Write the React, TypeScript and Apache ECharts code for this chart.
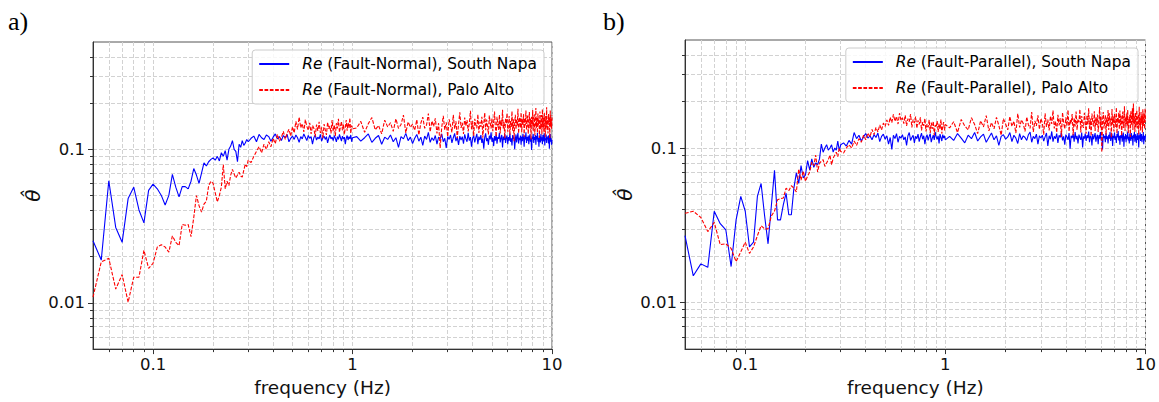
import React, { useEffect, useRef } from "react";
import * as echarts from "echarts";

// ---- axes ----
const X_MIN = 0.05;
const X_MAX = 10;
const Y_MIN = 0.005;
const Y_MAX = 0.5;
const X_MAJOR = [0.1, 1, 10];
const X_MINOR = [0.06, 0.07, 0.08, 0.09, 0.2, 0.3, 0.4, 0.5, 0.6, 0.7, 0.8, 0.9, 2, 3, 4, 5, 6, 7, 8, 9];
const Y_MAJOR = [0.01, 0.1];
const Y_MINOR = [0.006, 0.007, 0.008, 0.009, 0.02, 0.03, 0.04, 0.05, 0.06, 0.07, 0.08, 0.09, 0.2, 0.3, 0.4];

// frequency bins (start, step) for the three sampled bands
const LOW_BINS = [0.05, 0.005];
const MID_BINS = [0.31, 0.01];
const HIGH_BINS = [1.05, 0.05];

const LEGEND_A = ["(Fault-Normal), South Napa", "(Fault-Normal), Palo Alto"];
const LEGEND_B = ["(Fault-Parallel), South Napa", "(Fault-Parallel), Palo Alto"];

// ---- panel a) Fault-Normal ----
const aBlueLow = [
  0.0254, 0.019, 0.0624, 0.031, 0.0248, 0.0478, 0.0567, 0.0403, 0.0332, 0.054,
  0.0594, 0.0553, 0.0501, 0.0434, 0.0501, 0.0687, 0.0567, 0.049, 0.0572, 0.0572,
  0.0553, 0.062, 0.075, 0.068, 0.06, 0.07, 0.0815, 0.078, 0.083, 0.086,
  0.088, 0.085, 0.09, 0.084, 0.095, 0.09, 0.098, 0.085, 0.1, 0.105,
  0.114, 0.1, 0.097, 0.083, 0.108, 0.103, 0.114, 0.106, 0.11, 0.116,
  0.112,
];
const aBlueMid = [
  0.118, 0.122, 0.112, 0.125, 0.119, 0.116, 0.124, 0.121, 0.113, 0.12,
  0.126, 0.117, 0.121, 0.114, 0.123, 0.119, 0.125, 0.112, 0.118, 0.122,
  0.116, 0.124, 0.119, 0.111, 0.121, 0.117, 0.126, 0.12, 0.114, 0.123,
  0.118, 0.121, 0.108, 0.119, 0.124, 0.115, 0.12, 0.117, 0.125, 0.113,
  0.119, 0.122, 0.116, 0.121, 0.11, 0.118, 0.124, 0.117, 0.12, 0.114,
  0.123, 0.118, 0.112, 0.121, 0.116, 0.125, 0.119, 0.113, 0.122, 0.117,
  0.12, 0.108, 0.118, 0.123, 0.115, 0.121, 0.117, 0.124, 0.112, 0.119,
];
const aBlueHigh = [
  0.121, 0.113, 0.119, 0.126, 0.111, 0.118, 0.123, 0.108, 0.12, 0.116,
  0.124, 0.112, 0.119, 0.103, 0.121, 0.117, 0.127, 0.114, 0.12, 0.109,
  0.118, 0.125, 0.113, 0.12, 0.106, 0.122, 0.116, 0.129, 0.111, 0.119,
  0.114, 0.123, 0.108, 0.12, 0.117, 0.126, 0.112, 0.118, 0.102, 0.121,
  0.116, 0.124, 0.11, 0.119, 0.127, 0.113, 0.12, 0.107, 0.122, 0.115,
  0.121, 0.109, 0.125, 0.117, 0.112, 0.128, 0.114, 0.12, 0.104, 0.118,
  0.123, 0.111, 0.119, 0.126, 0.108, 0.121, 0.115, 0.124, 0.11, 0.118,
  0.101, 0.12, 0.127, 0.113, 0.118, 0.107, 0.123, 0.116, 0.129, 0.112,
  0.119, 0.105, 0.122, 0.114, 0.125, 0.109, 0.12, 0.117, 0.128, 0.111,
  0.118, 0.124, 0.103, 0.121, 0.115, 0.126, 0.11, 0.119, 0.123, 0.108,
  0.12, 0.114, 0.127, 0.112, 0.118, 0.106, 0.124, 0.117, 0.121, 0.1,
  0.116, 0.125, 0.111, 0.12, 0.128, 0.109, 0.119, 0.115, 0.123, 0.107,
  0.121, 0.113, 0.126, 0.118, 0.104, 0.122, 0.116, 0.129, 0.11, 0.12,
  0.114, 0.123, 0.108, 0.119, 0.125, 0.112, 0.118, 0.099, 0.121, 0.117,
  0.126, 0.11, 0.12, 0.115, 0.124, 0.107, 0.122, 0.116, 0.128, 0.112,
  0.119, 0.104, 0.123, 0.117, 0.111, 0.126, 0.114, 0.12, 0.108, 0.124,
  0.113, 0.121, 0.127, 0.106, 0.118, 0.115, 0.125, 0.11, 0.12, 0.116,
  0.122, 0.109, 0.124, 0.101, 0.119, 0.126, 0.112, 0.118, 0.107, 0.115,
];
const aRedLow = [
  0.0109, 0.0185, 0.0195, 0.0123, 0.0153, 0.0101, 0.0147, 0.0147, 0.022, 0.0168,
  0.0181, 0.0231, 0.0239, 0.0231, 0.0214, 0.0273, 0.0248, 0.0236, 0.0324, 0.032,
  0.0324, 0.027, 0.036, 0.05, 0.043, 0.039, 0.044, 0.046, 0.058, 0.062,
  0.06, 0.052, 0.0455, 0.05, 0.0567, 0.0796, 0.0553, 0.062, 0.058, 0.068,
  0.074, 0.069, 0.065, 0.068, 0.071, 0.067, 0.066, 0.073, 0.08, 0.077,
  0.085,
];
const aRedMid = [
  0.082, 0.09, 0.097, 0.104, 0.095, 0.108, 0.1, 0.112, 0.104, 0.118,
  0.109, 0.125, 0.113, 0.12, 0.131, 0.116, 0.127, 0.135, 0.122, 0.14,
  0.128, 0.152, 0.135, 0.162, 0.138, 0.147, 0.13, 0.156, 0.141, 0.133,
  0.149, 0.126, 0.143, 0.137, 0.121, 0.145, 0.132, 0.151, 0.128, 0.139,
  0.118, 0.146, 0.134, 0.124, 0.15, 0.136, 0.142, 0.127, 0.155, 0.131,
  0.144, 0.122, 0.148, 0.137, 0.158, 0.129, 0.141, 0.152, 0.133, 0.146,
  0.125, 0.139, 0.155, 0.132, 0.149, 0.138, 0.16, 0.127, 0.143, 0.136,
];
const aRedHigh = [
  0.138, 0.152, 0.129, 0.147, 0.161, 0.134, 0.143, 0.126, 0.155, 0.14,
  0.149, 0.131, 0.158, 0.137, 0.145, 0.167, 0.128, 0.151, 0.139, 0.146,
  0.133, 0.156, 0.124, 0.148, 0.162, 0.137, 0.144, 0.171, 0.13, 0.153,
  0.141, 0.159, 0.127, 0.148, 0.102, 0.139, 0.165, 0.134, 0.15, 0.121,
  0.157, 0.143, 0.129, 0.168, 0.136, 0.152, 0.118, 0.146, 0.174, 0.138,
  0.149, 0.126, 0.161, 0.142, 0.155, 0.131, 0.147, 0.178, 0.135, 0.153,
  0.122, 0.158, 0.144, 0.137, 0.169, 0.128, 0.151, 0.14, 0.163, 0.119,
  0.147, 0.173, 0.133, 0.156, 0.141, 0.125, 0.166, 0.149, 0.137, 0.159,
  0.131, 0.152, 0.176, 0.14, 0.121, 0.163, 0.145, 0.134, 0.168, 0.127,
  0.155, 0.142, 0.181, 0.136, 0.15, 0.118, 0.16, 0.147, 0.172, 0.13,
  0.144, 0.165, 0.124, 0.153, 0.139, 0.177, 0.132, 0.158, 0.113, 0.149,
  0.168, 0.135, 0.156, 0.142, 0.184, 0.127, 0.151, 0.162, 0.138, 0.174,
  0.129, 0.157, 0.145, 0.17, 0.121, 0.16, 0.143, 0.179, 0.134, 0.152,
  0.166, 0.126, 0.148, 0.175, 0.137, 0.159, 0.116, 0.163, 0.142, 0.18,
  0.131, 0.154, 0.169, 0.123, 0.147, 0.186, 0.138, 0.16, 0.128, 0.171,
  0.144, 0.158, 0.119, 0.176, 0.135, 0.152, 0.167, 0.125, 0.182, 0.14,
  0.161, 0.13, 0.173, 0.147, 0.121, 0.165, 0.139, 0.188, 0.133, 0.156,
  0.127, 0.17, 0.148, 0.162, 0.118, 0.179, 0.141, 0.158, 0.136, 0.167,
];

// ---- panel b) Fault-Parallel ----
const bBlueLow = [
  0.0271, 0.0149, 0.0178, 0.0169, 0.039, 0.0324, 0.0295, 0.0171, 0.0343, 0.0486,
  0.039, 0.0229, 0.0246, 0.0486, 0.059, 0.0363, 0.024, 0.042, 0.0717, 0.0343,
  0.0343, 0.043, 0.051, 0.037, 0.037, 0.055, 0.069, 0.059, 0.077, 0.064,
  0.067, 0.083, 0.072, 0.085, 0.075, 0.08, 0.078, 0.085, 0.106, 0.094,
  0.1, 0.105, 0.097, 0.1, 0.105, 0.094, 0.1, 0.097, 0.111, 0.096,
  0.105,
];
const bBlueMid = [
  0.108, 0.103, 0.112, 0.106, 0.126, 0.115, 0.121, 0.111, 0.118, 0.124,
  0.116, 0.12, 0.113, 0.122, 0.117, 0.125, 0.11, 0.119, 0.123, 0.114,
  0.12, 0.106, 0.117, 0.098, 0.121, 0.115, 0.124, 0.109, 0.119, 0.116,
  0.122, 0.113, 0.118, 0.104, 0.12, 0.126, 0.112, 0.117, 0.121, 0.108,
  0.119, 0.115, 0.123, 0.11, 0.118, 0.125, 0.114, 0.12, 0.106, 0.117,
  0.122, 0.112, 0.119, 0.124, 0.109, 0.116, 0.121, 0.113, 0.127, 0.118,
  0.114, 0.12, 0.107, 0.123, 0.117, 0.111, 0.122, 0.116, 0.12, 0.113,
];
const bBlueHigh = [
  0.119, 0.112, 0.124, 0.116, 0.108, 0.121, 0.115, 0.126, 0.111, 0.118,
  0.123, 0.109, 0.117, 0.125, 0.113, 0.12, 0.104, 0.119, 0.122, 0.114,
  0.118, 0.126, 0.11, 0.121, 0.116, 0.107, 0.124, 0.113, 0.12, 0.117,
  0.112, 0.122, 0.127, 0.109, 0.119, 0.115, 0.123, 0.106, 0.12, 0.116,
  0.121, 0.111, 0.118, 0.125, 0.103, 0.12, 0.114, 0.128, 0.11, 0.119,
  0.115, 0.124, 0.108, 0.121, 0.117, 0.126, 0.112, 0.119, 0.105, 0.122,
  0.118, 0.113, 0.125, 0.099, 0.12, 0.116, 0.123, 0.11, 0.127, 0.114,
  0.12, 0.107, 0.122, 0.117, 0.113, 0.126, 0.101, 0.119, 0.115, 0.124,
  0.111, 0.121, 0.116, 0.128, 0.109, 0.12, 0.118, 0.104, 0.123, 0.114,
  0.119, 0.125, 0.11, 0.117, 0.122, 0.106, 0.121, 0.115, 0.127, 0.112,
  0.118, 0.098, 0.123, 0.116, 0.12, 0.109, 0.125, 0.114, 0.119, 0.107,
  0.122, 0.115, 0.127, 0.111, 0.118, 0.124, 0.103, 0.12, 0.116, 0.126,
  0.113, 0.119, 0.108, 0.123, 0.117, 0.129, 0.112, 0.12, 0.105, 0.121,
  0.116, 0.124, 0.11, 0.118, 0.126, 0.102, 0.119, 0.114, 0.123, 0.109,
  0.121, 0.115, 0.128, 0.112, 0.118, 0.107, 0.124, 0.117, 0.111, 0.125,
  0.114, 0.12, 0.104, 0.122, 0.116, 0.127, 0.11, 0.119, 0.123, 0.108,
  0.12, 0.113, 0.125, 0.117, 0.101, 0.121, 0.115, 0.126, 0.111, 0.118,
  0.123, 0.109, 0.119, 0.114, 0.127, 0.106, 0.12, 0.116, 0.112, 0.121,
];
const bRedLow = [
  0.0378, 0.039, 0.0355, 0.0288, 0.033, 0.0237, 0.024, 0.0224, 0.0184, 0.0213,
  0.0246, 0.0208, 0.0229, 0.0271, 0.0314, 0.03, 0.03, 0.0363, 0.039, 0.0463,
  0.047, 0.0475, 0.055, 0.053, 0.057, 0.055, 0.052, 0.073, 0.062, 0.071,
  0.061, 0.066, 0.07, 0.081, 0.077, 0.09, 0.07, 0.08, 0.082, 0.084,
  0.076, 0.08, 0.084, 0.09, 0.078, 0.086, 0.09, 0.094, 0.088, 0.1,
  0.095,
];
const bRedMid = [
  0.093, 0.1, 0.105, 0.1, 0.111, 0.104, 0.115, 0.109, 0.121, 0.113,
  0.125, 0.118, 0.132, 0.122, 0.136, 0.127, 0.141, 0.131, 0.145, 0.138,
  0.152, 0.14, 0.158, 0.146, 0.165, 0.149, 0.16, 0.143, 0.168, 0.151,
  0.157, 0.144, 0.163, 0.139, 0.155, 0.148, 0.166, 0.136, 0.153, 0.145,
  0.16, 0.134, 0.151, 0.142, 0.158, 0.13, 0.147, 0.139, 0.155, 0.128,
  0.143, 0.136, 0.152, 0.125, 0.146, 0.133, 0.149, 0.121, 0.141, 0.137,
  0.15, 0.127, 0.144, 0.132, 0.153, 0.124, 0.139, 0.147, 0.13, 0.142,
];
const bRedHigh = [
  0.135, 0.148, 0.126, 0.153, 0.139, 0.131, 0.157, 0.142, 0.124, 0.15,
  0.137, 0.162, 0.129, 0.146, 0.133, 0.158, 0.14, 0.121, 0.155, 0.143,
  0.131, 0.16, 0.138, 0.149, 0.125, 0.167, 0.136, 0.152, 0.144, 0.128,
  0.159, 0.141, 0.134, 0.171, 0.127, 0.15, 0.139, 0.163, 0.132, 0.155,
  0.146, 0.122, 0.168, 0.137, 0.153, 0.13, 0.161, 0.143, 0.175, 0.134,
  0.149, 0.126, 0.164, 0.14, 0.156, 0.118, 0.17, 0.145, 0.133, 0.158,
  0.139, 0.176, 0.128, 0.152, 0.144, 0.166, 0.121, 0.157, 0.138, 0.172,
  0.131, 0.154, 0.147, 0.178, 0.126, 0.161, 0.14, 0.135, 0.169, 0.148,
  0.124, 0.163, 0.142, 0.181, 0.133, 0.155, 0.119, 0.167, 0.146, 0.138,
  0.173, 0.129, 0.158, 0.141, 0.165, 0.127, 0.15, 0.184, 0.136, 0.16,
  0.094, 0.152, 0.171, 0.134, 0.147, 0.163, 0.122, 0.158, 0.139, 0.176,
  0.131, 0.168, 0.145, 0.155, 0.117, 0.179, 0.142, 0.16, 0.128, 0.166,
  0.15, 0.137, 0.183, 0.124, 0.157, 0.145, 0.169, 0.132, 0.175, 0.14,
  0.162, 0.12, 0.153, 0.172, 0.135, 0.148, 0.186, 0.129, 0.159, 0.143,
  0.167, 0.138, 0.177, 0.125, 0.155, 0.146, 0.164, 0.118, 0.173, 0.14,
  0.152, 0.181, 0.131, 0.194, 0.144, 0.16, 0.127, 0.17, 0.137, 0.158,
  0.176, 0.134, 0.149, 0.165, 0.122, 0.185, 0.141, 0.156, 0.13, 0.171,
  0.145, 0.162, 0.126, 0.178, 0.139, 0.154, 0.167, 0.133, 0.18, 0.148,
];

function bins(spec: number[], n: number): number[] {
  const out: number[] = [];
  for (let i = 0; i < n; i++) out.push(Math.round((spec[0] + i * spec[1]) * 1000) / 1000);
  return out;
}
function pairs(low: number[], mid: number[], high: number[]): number[][] {
  const f = [...bins(LOW_BINS, low.length), ...bins(MID_BINS, mid.length), ...bins(HIGH_BINS, high.length)];
  const v = [...low, ...mid, ...high];
  return f.map((x, i) => [x, v[i]]);
}

const FONT = "DejaVu Sans";
const GRID_LINE = { show: true, lineStyle: { color: "#d2d2d2", width: 1, type: [4, 2] as any } };

function xAxes(g: number) {
  return [
    {
      type: "log", logBase: 10, gridIndex: g, min: X_MIN, max: X_MAX, position: "bottom",
      axisLine: { show: true, lineStyle: { color: "#333", width: 1 } },
      axisTick: { show: true, length: 5, customValues: X_MAJOR, lineStyle: { color: "#333" } },
      axisLabel: { customValues: X_MAJOR, fontSize: 16.5, color: "#111", margin: 7, fontFamily: FONT },
      splitLine: GRID_LINE,
      name: "frequency (Hz)", nameLocation: "middle", nameGap: 22,
      nameTextStyle: { fontSize: 18.5, color: "#111", fontFamily: FONT },
    },
    {
      type: "log", logBase: 10, gridIndex: g, min: X_MIN, max: X_MAX, position: "bottom",
      axisLine: { show: false },
      axisTick: { show: true, length: 3, customValues: X_MINOR, lineStyle: { color: "#333" } },
      axisLabel: { show: false },
      splitLine: GRID_LINE,
    },
  ];
}
function yAxes(g: number) {
  return [
    {
      type: "log", logBase: 10, gridIndex: g, min: Y_MIN, max: Y_MAX, position: "left",
      axisLine: { show: true, lineStyle: { color: "#333", width: 1 } },
      axisTick: { show: true, length: 5, customValues: Y_MAJOR, lineStyle: { color: "#333" } },
      axisLabel: { customValues: Y_MAJOR, fontSize: 16.5, color: "#111", margin: 8, fontFamily: FONT },
      splitLine: GRID_LINE,
      name: "\u03b8\u0302", nameLocation: "middle", nameGap: 50, nameRotate: 90,
      nameTextStyle: { fontSize: 20, color: "#111", fontFamily: FONT, fontStyle: "italic" },
    },
    {
      type: "log", logBase: 10, gridIndex: g, min: Y_MIN, max: Y_MAX, position: "left",
      axisLine: { show: false },
      axisTick: { show: true, length: 3, customValues: Y_MINOR, lineStyle: { color: "#333" } },
      axisLabel: { show: false },
      splitLine: GRID_LINE,
    },
  ];
}

function legend(names: string[], labels: string[], right: number, top: number) {
  return {
    data: names, orient: "vertical", right, top, itemWidth: 30, itemHeight: 14, itemGap: 8,
    padding: [5, 7, 5, 6], backgroundColor: "rgba(255,255,255,0.85)", borderColor: "#cccccc",
    borderWidth: 1, borderRadius: 3, selectedMode: false,
    itemStyle: { opacity: 0, borderWidth: 0 },
    formatter: (n: string) => "{sp|}{it|Re} " + labels[names.indexOf(n)],
    textStyle: {
      fontFamily: FONT, fontSize: 15.4, color: "#000", lineHeight: 18,
      rich: {
        sp: { width: 8 },
        it: { fontFamily: FONT, fontSize: 15.4, fontStyle: "italic", color: "#000" },
      },
    },
  };
}

function line(name: string, axis: number, data: number[][], red: boolean) {
  return {
    type: "line", name, xAxisIndex: axis, yAxisIndex: axis, data,
    showSymbol: false, symbol: "none", silent: true, z: red ? 3 : 2,
    itemStyle: { color: red ? "#ff0000" : "#0000ff" },
    lineStyle: { color: red ? "#ff0000" : "#0000ff", width: 1.1, type: red ? ([3.7, 1.6] as any) : "solid" },
  };
}

export default function App() {
  const ref = useRef<HTMLDivElement>(null);
  useEffect(() => {
    document.body.style.margin = "0";
    if (!ref.current) return;
    const chart = echarts.init(ref.current, undefined, { renderer: "svg" });
    chart.setOption({
      animation: false,
      backgroundColor: "#fff",
      textStyle: { fontFamily: FONT },
      title: [
        { text: "a)", left: 8, top: 8, padding: 0, textStyle: { fontFamily: "Liberation Serif", fontSize: 26, fontWeight: "normal", color: "#000" } },
        { text: "b)", left: 603, top: 8, padding: 0, textStyle: { fontFamily: "Liberation Serif", fontSize: 26, fontWeight: "normal", color: "#000" } },
      ],
      grid: [
        { left: 93, top: 42, width: 459, height: 313, show: true, borderColor: "#555", borderWidth: 1, backgroundColor: "transparent" },
        { left: 685, top: 40, width: 461, height: 316, show: true, borderColor: "#555", borderWidth: 1, backgroundColor: "transparent" },
      ],
      xAxis: [...xAxes(0), ...xAxes(1)],
      yAxis: [...yAxes(0), ...yAxes(1)],
      legend: [
        legend(["aBlue", "aRed"], LEGEND_A, 615, 50),
        legend(["bBlue", "bRed"], LEGEND_B, 21, 48),
      ],
      series: [
        line("aBlue", 0, pairs(aBlueLow, aBlueMid, aBlueHigh), false),
        line("aRed", 0, pairs(aRedLow, aRedMid, aRedHigh), true),
        line("bBlue", 2, pairs(bBlueLow, bBlueMid, bBlueHigh), false),
        line("bRed", 2, pairs(bRedLow, bRedMid, bRedHigh), true),
      ],
    });
    return () => chart.dispose();
  }, []);
  return <div ref={ref} style={{ width: 1159, height: 402 }} />;
}
